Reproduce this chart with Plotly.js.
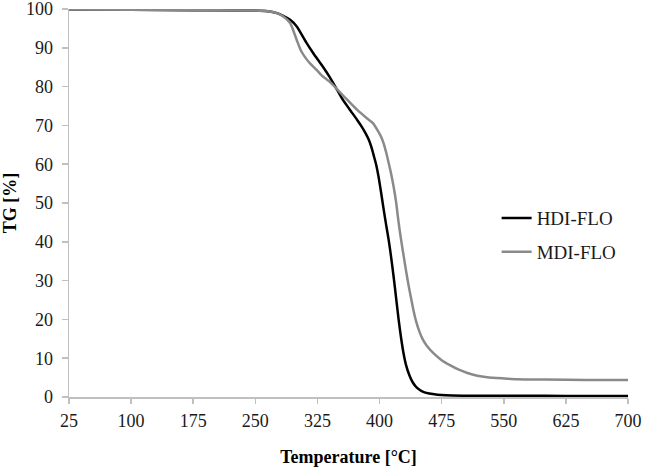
<!DOCTYPE html>
<html lang="en">
<head>
  <meta charset="UTF-8">
  <title>TG curves</title>
  <script src="https://cdn.plot.ly/plotly-3.0.1.min.js"></script>
  <style>
    body { margin: 0; background: #ffffff; }
    #chart { width: 645px; height: 470px; }
  </style>
</head>
<body>
  <div id="chart"></div>
  <script>
    // HDI-FLO readings (temperature in degC, mass in %)
    const hdiTemp = [25, 100, 175, 250, 265, 275, 283, 292, 300, 312, 320, 332, 340, 349, 356, 365, 373, 378, 383, 387, 390, 393, 396, 399, 402, 405, 408, 411, 414, 417, 420, 423, 426, 429, 432, 436, 440, 445, 452, 460, 470, 480, 500, 550, 600, 650, 700];
    const hdiMass = [99.9, 99.8, 99.7, 99.6, 99.4, 99.0, 98.3, 97.2, 95.5, 91.2, 88.6, 85.0, 82.4, 79.1, 76.5, 73.8, 71.4, 69.8, 68.0, 66.3, 64.5, 62.2, 59.8, 56.5, 52.5, 48.3, 44.3, 40.5, 36.0, 31.0, 25.5, 20.0, 15.2, 11.2, 8.2, 5.6, 3.8, 2.4, 1.4, 0.9, 0.6, 0.45, 0.35, 0.3, 0.3, 0.25, 0.25];

    // MDI-FLO readings
    const mdiTemp = [25, 100, 175, 250, 265, 275, 283, 292, 300, 305, 310, 316, 324, 330, 340, 356, 373, 385, 392, 398, 402, 405, 408, 411, 414, 417, 420, 423, 426, 429, 432, 435, 438, 441, 444, 448, 452, 457, 465, 475, 485, 495, 506, 518, 530, 550, 566, 600, 650, 700];
    const mdiMass = [99.9, 99.8, 99.7, 99.6, 99.4, 99.0, 98.2, 96.4, 92.0, 89.3, 87.6, 86.0, 84.3, 82.9, 81.2, 77.7, 74.0, 71.8, 70.6, 68.6, 67.0, 65.3, 63.0, 60.3, 57.5, 54.2, 50.2, 45.0, 40.5, 36.5, 32.5, 28.8, 25.5, 22.3, 19.6, 16.9, 14.9, 13.2, 11.3, 9.5, 8.2, 7.1, 6.2, 5.5, 5.1, 4.8, 4.6, 4.5, 4.4, 4.4];

    const xTicks = [25, 100, 175, 250, 325, 400, 475, 550, 625, 700];
    const yTicks = [0, 10, 20, 30, 40, 50, 60, 70, 80, 90, 100];

    const serif = "'Liberation Serif', 'Times New Roman', serif";
    const axisGrey = "#c0c0c0";

    let traces = [
      {
        x: hdiTemp, y: hdiMass, name: "HDI-FLO", legendgroup: "a",
        mode: "lines", line: { color: "#000000", width: 2.5, shape: "spline", smoothing: 0.6 }
      },
      {
        x: mdiTemp, y: mdiMass, name: "MDI-FLO", legendgroup: "b",
        mode: "lines", line: { color: "#8a8a8a", width: 2.5, shape: "spline", smoothing: 0.6 }
      }
    ];

    let layout = {
      width: 645,
      height: 470,
      margin: { l: 69, r: 17, t: 9, b: 73 },
      paper_bgcolor: "#ffffff",
      plot_bgcolor: "#ffffff",
      font: { family: serif, size: 18, color: "#1a1a1a" },
      showlegend: true,
      legend: {
        x: 0.765, y: 0.51, xanchor: "left", yanchor: "top",
        bgcolor: "rgba(0,0,0,0)", borderwidth: 0,
        traceorder: "grouped", tracegroupgap: 6,
        font: { family: serif, size: 19, color: "#1a1a1a" }
      },
      xaxis: {
        range: [25, 700],
        tickvals: xTicks,
        showgrid: false, zeroline: false,
        showline: true, linecolor: axisGrey, linewidth: 1.5,
        ticks: "outside", ticklen: 5, tickcolor: axisGrey, tickwidth: 1.5,
        ticklabelstandoff: 2, ticklabeloverflow: "allow",
        title: { text: "<b>Temperature [°C]</b>", standoff: 20, font: { family: serif, size: 18, color: "#000000" } }
      },
      yaxis: {
        range: [0, 100],
        tickvals: yTicks,
        showgrid: false, zeroline: false,
        showline: true, linecolor: axisGrey, linewidth: 1.5,
        ticks: "outside", ticklen: 6, tickcolor: axisGrey, tickwidth: 1.5,
        ticklabelstandoff: 5, ticklabeloverflow: "allow",
        title: { text: "<b>TG [%]</b>", standoff: 6, font: { family: serif, size: 18, color: "#000000" } }
      }
    };

    Plotly.newPlot("chart", traces, layout, { displayModeBar: false, staticPlot: true });
  </script>
</body>
</html>
